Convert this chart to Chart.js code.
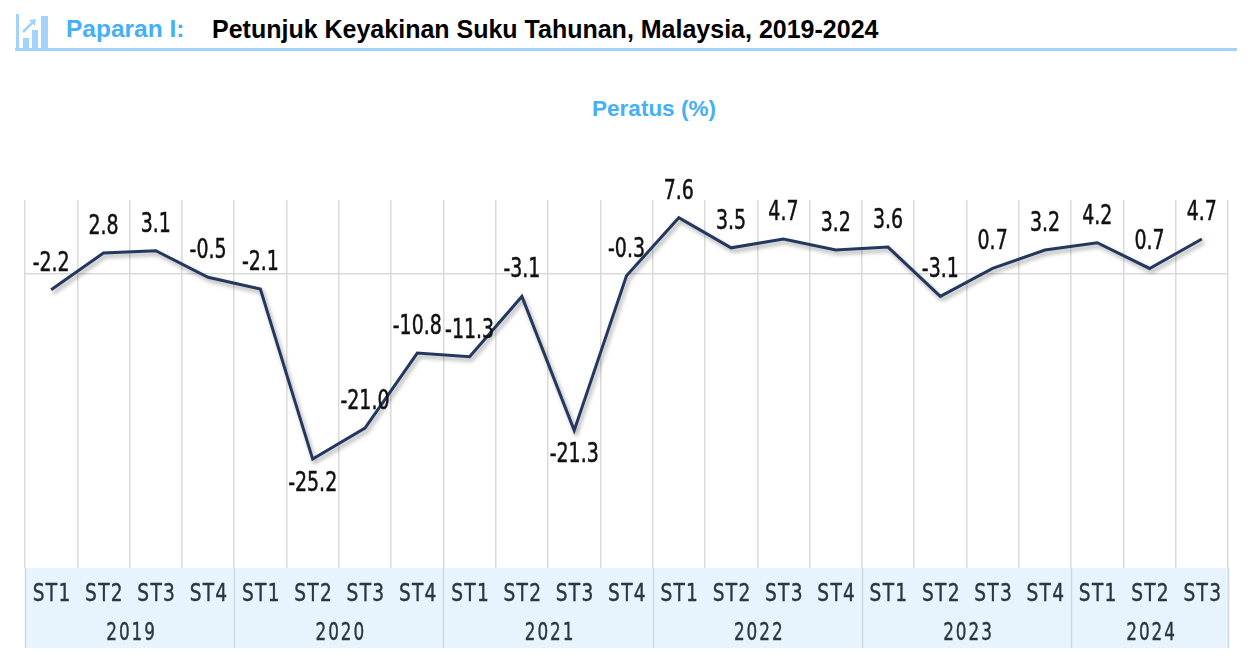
<!DOCTYPE html>
<html>
<head>
<meta charset="utf-8">
<script src="https://cdn.jsdelivr.net/npm/chart.js@4.4.1/dist/chart.umd.min.js"></script>
<style>
    body { margin: 0; background: #fff; width: 1252px; height: 670px; position: relative; overflow: hidden; font-family: "Liberation Sans", Arial, sans-serif; }
    #icone { position: absolute; left: 15px; top: 12px; }
    #rotulo { position: absolute; left: 66px; top: 15px; font-size: 24.5px; font-weight: bold; color: #45b0f7; }
    #titulo { position: absolute; left: 212px; top: 15px; font-size: 25px; font-weight: bold; color: #000; }
    #linha { position: absolute; left: 15px; top: 48px; width: 1222px; height: 3px; background: #a3d3fb; }
    #unidade { position: absolute; left: 0; width: 1308px; top: 96px; text-align: center; font-size: 22.5px; font-weight: bold; color: #45b0f7; }
    #grafico { position: absolute; left: 0; top: 150px; width: 1252px; height: 500px; }
</style>
</head>
<body>
<svg id="icone" width="40" height="40" viewBox="0 0 40 40">
    <rect x="1" y="2" width="3" height="35" fill="#a3d3fb"/>
    <rect x="8" y="26" width="6" height="10" fill="#a3d3fb"/>
    <rect x="17" y="18" width="6" height="18" fill="#a3d3fb"/>
    <rect x="26" y="4" width="7" height="32" fill="#a3d3fb"/>
    <polyline points="8,20 18,10" stroke="#a3d3fb" stroke-width="2.5" fill="none"/>
    <polygon points="14,8 21,7 20,14" fill="#a3d3fb"/>
</svg>
<div id="rotulo">Paparan I:</div>
<div id="titulo">Petunjuk Keyakinan Suku Tahunan, Malaysia, 2019-2024</div>
<div id="linha"></div>
<div id="unidade">Peratus (%)</div>
<div id="grafico"><canvas id="IndiceKeyakinan"></canvas></div>

<script>
// Dados do gráfico
const suku = ['ST1','ST2','ST3','ST4','ST1','ST2','ST3','ST4','ST1','ST2','ST3','ST4',
              'ST1','ST2','ST3','ST4','ST1','ST2','ST3','ST4','ST1','ST2','ST3'];
const tahun = ['2019','2020','2021','2022','2023','2024'];
const sukuPerTahun = [4, 4, 4, 4, 4, 3];
const nilai = [-2.2, 2.8, 3.1, -0.5, -2.1, -25.2, -21.0, -10.8, -11.3, -3.1, -21.3, -0.3,
               7.6, 3.5, 4.7, 3.2, 3.6, -3.1, 0.7, 3.2, 4.2, 0.7, 4.7];
// pontos cujo rótulo fica abaixo da linha
const rotuloAbaixo = [5, 10];

const corTexto = '#2b3640';
const fonteDin = '"DejaVu Sans Condensed", "DejaVu Sans", sans-serif';

// Texto estreito (imita fonte DIN condensada)
function textoEstreito(ctx, texto, x, y, escala, traco) {
    ctx.save();
    ctx.translate(x, y);
    ctx.scale(escala, 1);
    ctx.fillText(texto, 0, 0);
    if (traco) {
        ctx.lineWidth = traco;
        ctx.strokeStyle = ctx.fillStyle;
        ctx.strokeText(texto, 0, 0);
    }
    ctx.restore();
}

// Faixa azul do eixo X com os trimestres e anos
const faixaAnos = {
    id: 'faixaAnos',
    beforeDraw(chart) {
        const { ctx, chartArea, scales } = chart;
        const x = scales.x;
        const topo = chartArea.bottom;
        const base = x.bottom;
        ctx.save();
        ctx.fillStyle = '#e8f4fd';
        ctx.fillRect(chartArea.left, topo, chartArea.right - chartArea.left, base - topo);
        ctx.strokeStyle = '#cdd8e1';
        ctx.lineWidth = 1.5;
        const meio = (x.getPixelForValue(1) - x.getPixelForValue(0)) / 2;
        let inicio = 0;
        const bordas = [chartArea.left];
        tahun.forEach((ano, i) => {
            const fim = inicio + sukuPerTahun[i] - 1;
            bordas.push(x.getPixelForValue(fim) + meio);
            inicio = fim + 1;
        });
        bordas.forEach(px => {
            ctx.beginPath();
            ctx.moveTo(Math.round(px) + 0.5, topo);
            ctx.lineTo(Math.round(px) + 0.5, base);
            ctx.stroke();
        });
        ctx.restore();
    },
    afterDraw(chart) {
        const { ctx, chartArea, scales } = chart;
        const x = scales.x;
        ctx.save();
        ctx.fillStyle = corTexto;
        ctx.font = '24px ' + fonteDin;
        ctx.textAlign = 'center';
        ctx.textBaseline = 'middle';
        ctx.letterSpacing = '1.5px';
        suku.forEach((s, i) => {
            textoEstreito(ctx, x.getLabelForValue(i), x.getPixelForValue(i) + 1, chartArea.bottom + 27, 0.86, 0.4);
        });
        ctx.letterSpacing = '2.5px';
        let inicio = 0;
        tahun.forEach((ano, i) => {
            const fim = inicio + sukuPerTahun[i] - 1;
            const cx = (x.getPixelForValue(inicio) + x.getPixelForValue(fim)) / 2;
            textoEstreito(ctx, ano, cx + 2, chartArea.bottom + 66, 0.78, 0.4);
            inicio = fim + 1;
        });
        ctx.restore();
    }
};

// Rótulos dos valores e sombra da linha
const rotulosValores = {
    id: 'rotulosValores',
    beforeDatasetDraw(chart) {
        const ctx = chart.ctx;
        ctx.save();
        ctx.shadowColor = 'rgba(0, 0, 0, 0.35)';
        ctx.shadowBlur = 4;
        ctx.shadowOffsetX = 2;
        ctx.shadowOffsetY = 3;
    },
    afterDatasetDraw(chart) {
        chart.ctx.restore();
    },
    afterDatasetsDraw(chart) {
        const ctx = chart.ctx;
        const meta = chart.getDatasetMeta(0);
        ctx.save();
        ctx.fillStyle = '#111';
        ctx.font = '27px ' + fonteDin;
        ctx.textAlign = 'center';
        ctx.textBaseline = 'middle';
        meta.data.forEach((ponto, i) => {
            const y = rotuloAbaixo.includes(i) ? ponto.y + 25 : ponto.y - 26;
            textoEstreito(ctx, nilai[i].toFixed(1), ponto.x, y, 0.78, 0.5);
        });
        ctx.restore();
    }
};

const ctxGrafico = document.getElementById('IndiceKeyakinan').getContext('2d');
new Chart(ctxGrafico, {
    type: 'line',
    data: {
        labels: suku,
        datasets: [{
            data: nilai,
            borderColor: '#24375e',
            borderWidth: 3,
            pointRadius: 0,
            tension: 0,
            fill: false
        }]
    },
    options: {
        responsive: true,
        maintainAspectRatio: false,
        animation: false,
        layout: { padding: { left: 25, right: 24, top: 50, bottom: 2 } },
        plugins: {
            legend: { display: false },
            tooltip: { enabled: false }
        },
        scales: {
            x: {
                offset: true,
                grid: { offset: true, color: '#dadada', lineWidth: 1.5, drawTicks: false },
                border: { display: false },
                ticks: { display: false, autoSkip: false },
                afterFit(scale) { scale.height = 80; }
            },
            y: {
                min: -40,
                max: 10,
                ticks: { display: false, stepSize: 10 },
                border: { display: false },
                grid: {
                    drawTicks: false,
                    lineWidth: 1.5,
                    color: c => c.tick && c.tick.value === 0 ? '#dadada' : 'rgba(0,0,0,0)'
                },
                afterFit(scale) { scale.width = 0; }
            }
        }
    },
    plugins: [faixaAnos, rotulosValores]
});
</script>
</body>
</html>
